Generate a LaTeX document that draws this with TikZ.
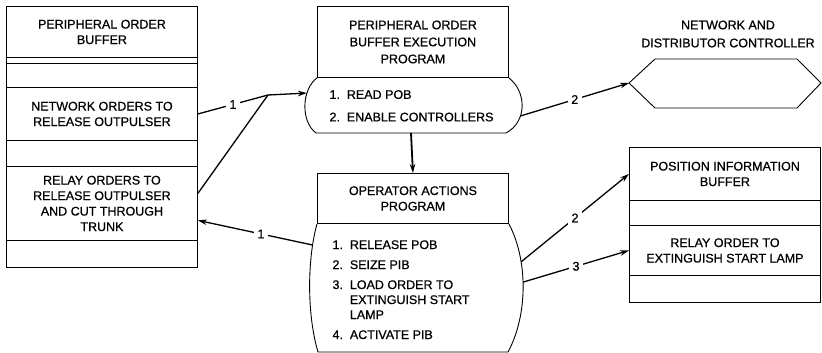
\documentclass[tikz,border=0pt]{standalone}
\usepackage{fontspec}
\setmainfont{Liberation Sans}[FakeBold=0.7]
\usetikzlibrary{arrows.meta}

\begin{document}
\begin{tikzpicture}[x=1pt,y=-1pt,
  >={Stealth[length=9pt,width=5.5pt]},
  txt/.style={font=\fontsize{12.5}{15.5}\selectfont},
  cell/.style={txt,draw,line width=0.9pt,minimum width=191pt,inner sep=0pt,
    align=center,anchor=north west},
  link/.style={line width=1.3pt},
  num/.style={txt,fill=white,inner sep=3.5pt}]
\useasboundingbox (0,0) rectangle (822,353);

% peripheral order buffer
\node[cell,minimum height=51pt] (pobTitle) at (6,6) {PERIPHERAL ORDER\\BUFFER};
\node[cell,minimum height=6pt] (pobStrip) at (6,57) {};
\node[cell,minimum height=24pt] (pobGapA) at (6,63) {};
\node[cell,minimum height=53pt] (pobNet) at (6,87) {NETWORK ORDERS TO\\RELEASE OUTPULSER};
\node[cell,minimum height=26pt] (pobGapB) at (6,140) {};
\node[cell,minimum height=74pt] (pobRelay) at (6,166) {RELAY ORDERS TO\\RELEASE OUTPULSER\\AND CUT THROUGH\\TRUNK};
\node[cell,minimum height=27pt] (pobEnd) at (6,240) {};

% execution program
\node[cell,minimum height=71pt,font=\fontsize{12.5}{17}\selectfont] (execTitle) at (317,6)
  {PERIPHERAL ORDER\\BUFFER EXECUTION\\PROGRAM};
\draw[line width=0.9pt] (execTitle.south west) .. controls (301,90) and (301,122) .. (316,133)
    coordinate[pos=0.3] (execIn)
  -- (506,133) coordinate[midway] (execBottom)
  .. controls (527,122) and (527,92) .. (execTitle.south east)
    coordinate[pos=0.35] (execOut);
\node[txt,anchor=west] (execList) at (326,107)
  {\begin{tabular}{@{}l@{\ \ }l@{}}1. & READ POB\\[7pt] 2. & ENABLE CONTROLLERS\end{tabular}};

% operator actions program
\node[cell,minimum height=50pt] (opTitle) at (317,173) {OPERATOR ACTIONS\\PROGRAM};
\draw[line width=0.9pt] (opTitle.south west) .. controls (307,260) and (307,315) .. (318,352)
    coordinate[pos=0.18] (opW)
  -- (508,352)
  .. controls (528,315) and (528,260) .. (opTitle.south east)
    coordinate[pos=0.69] (opEa) coordinate[pos=0.54] (opEb);
\node[txt,anchor=west] (opList) at (329,291)
  {\fontsize{12.5}{15}\selectfont\begin{tabular}{@{}l@{\ \ }l@{}}
    1. & RELEASE POB\\[5pt]
    2. & SEIZE PIB\\[5pt]
    3. & LOAD ORDER TO\\
       & EXTINGUISH START\\
       & LAMP\\[5pt]
    4. & ACTIVATE PIB\end{tabular}};

% network and distributor controller
\node[txt,align=center,font=\fontsize{12.5}{18}\selectfont] (ndcLabel) at (728,34)
  {NETWORK AND\\DISTRIBUTOR CONTROLLER};
\draw[line width=0.9pt] (629,83) coordinate (ndcIn) -- (655,59) -- (797,59) -- (821,83)
  -- (797,108) -- (655,108) -- cycle;

% position information buffer
\node[cell,minimum height=53pt] (pibTitle) at (629,147) {POSITION INFORMATION\\BUFFER};
\node[cell,minimum height=25pt] (pibGap) at (629,200) {};
\node[cell,minimum height=50pt] (pibRelay) at (629,225) {RELAY ORDER TO\\EXTINGUISH START LAMP};
\node[cell,minimum height=27pt] (pibEnd) at (629,275) {};

% connectors
\coordinate (join) at (268,95);
\draw[link] (pobNet.east) -- node[num] {1} (join);
\draw[link] (pobRelay.6) -- (join);
\draw[link,->] (join) -- (execIn);
\draw[link,->] (execOut) -- node[num] {2} (ndcIn);
\draw[link,line width=1.8pt,->] (execBottom) -- (opTitle.north);
\draw[link,->] (opW) -- node[num,pos=0.45] {1} (pobRelay.-10);
\draw[link,->] (opEa) -- node[num] {2} (pibTitle.west);
\draw[link,->] (opEb) -- node[num] {3} (pibRelay.west);
\end{tikzpicture}
\end{document}
